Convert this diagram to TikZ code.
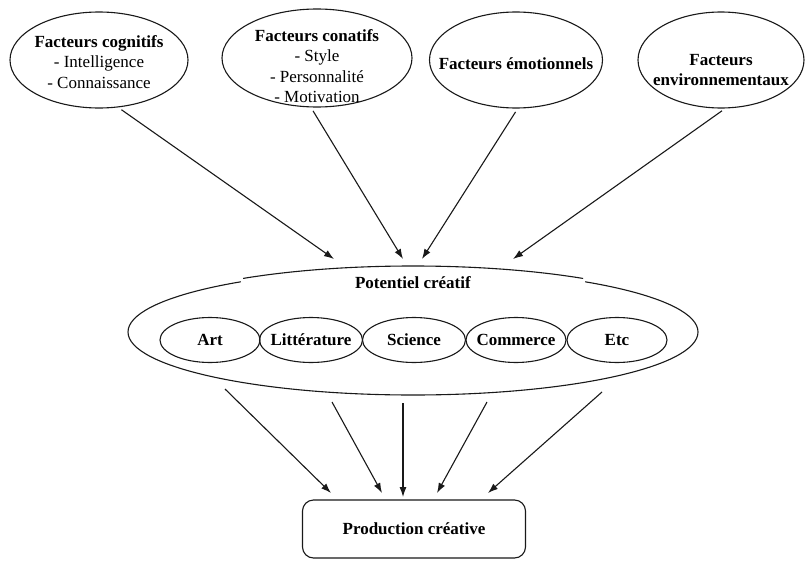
\documentclass[tikz,border=0pt]{standalone}
\usepackage{fontspec}
\setmainfont{Liberation Serif}
\usetikzlibrary{shapes.geometric,arrows.meta}
\begin{document}
\begin{tikzpicture}[x=1pt,y=-1pt,
  line width=1.1pt,
  ell/.style={draw=black!90,ellipse,inner sep=0pt},
  txt/.style={align=center,font=\fontsize{17}{20.5}\selectfont},
  arr/.style={draw=black!90,-{Latex[length=10pt,width=7pt]}},
]
\path[fill=white] (0,0) rectangle (806,562);
\useasboundingbox (0,0) rectangle (806,562);

% top ellipses
\node[ell,minimum width=178pt,minimum height=96pt] (cog) at (99,60) {};
\node[ell,minimum width=190pt,minimum height=98pt] (con) at (317,58) {};
\node[ell,minimum width=173pt,minimum height=96pt] (emo) at (516,60) {};
\node[ell,minimum width=166pt,minimum height=96pt] (env) at (721,60) {};

\node[txt] (cogt) at (99,62) {\textbf{Facteurs cognitifs}\\- Intelligence\\- Connaissance};
\node[txt] (cont) at (317,66) {\textbf{Facteurs conatifs}\\- Style\\- Personnalité\\- Motivation};
\node[txt] (emot) at (516,64) {\textbf{Facteurs émotionnels}};
\node[txt] (envt) at (721,70) {\textbf{Facteurs}\\\textbf{environnementaux}};

% potential
\node[ell,minimum width=570pt,minimum height=126pt] (pot) at (413,332) {};
\fill[white] (241,262) rectangle (585,298);
\begin{scope}
  \clip (243,200) rectangle (583,300);
  \draw[black!90] (413,329) ellipse [x radius=285, y radius=63];
\end{scope}
\node[txt] (pott) at (413,283) {\textbf{Potentiel créatif}};

\node[ell,minimum width=100pt,minimum height=45pt] (art) at (210,340) {};
\node[ell,minimum width=103pt,minimum height=45pt] (lit) at (311,340) {};
\node[ell,minimum width=103pt,minimum height=45pt] (sci) at (414,340) {};
\node[ell,minimum width=100pt,minimum height=45pt] (com) at (516,340) {};
\node[ell,minimum width=100pt,minimum height=45pt] (etc) at (617,340) {};
\node[txt] (artt) at (210,340) {\textbf{Art}};
\node[txt] (litt) at (311,340) {\textbf{Littérature}};
\node[txt] (scit) at (414,340) {\textbf{Science}};
\node[txt] (comt) at (516,340) {\textbf{Commerce}};
\node[txt] (etct) at (617,340) {\textbf{Etc}};

% production
\node[draw=black!90,rounded corners=11pt,minimum width=223pt,minimum height=58pt,txt] (prod) at (414,529) {\textbf{Production créative}};

% arrow end coordinates
\coordinate (t1) at (334,259);
\coordinate (t2) at (403,259);
\coordinate (t3) at (422,259);
\coordinate (t4) at (513,259);
\coordinate (b1) at (331,493);
\coordinate (b2) at (382,493);
\coordinate (b3) at (403,497);
\coordinate (b4) at (437,493);
\coordinate (b5) at (488,493);
\coordinate (s1) at (225,389);
\coordinate (s2) at (332,402);
\coordinate (s3) at (403,403);
\coordinate (s4) at (487,402);
\coordinate (s5) at (602,392);

\draw[arr,shorten <=4pt] (cog.-68) -- (t1);
\draw[arr,shorten <=4pt] (con.-97) -- (t2);
\draw[arr,shorten <=4pt] (emo.-88) -- (t3);
\draw[arr,shorten <=4pt] (env.-85) -- (t4);

\draw[arr] (s1) -- (b1);
\draw[arr] (s2) -- (b2);
\draw[arr] (s3) -- (b3);
\draw[arr] (s4) -- (b4);
\draw[arr] (s5) -- (b5);
\end{tikzpicture}
\end{document}
